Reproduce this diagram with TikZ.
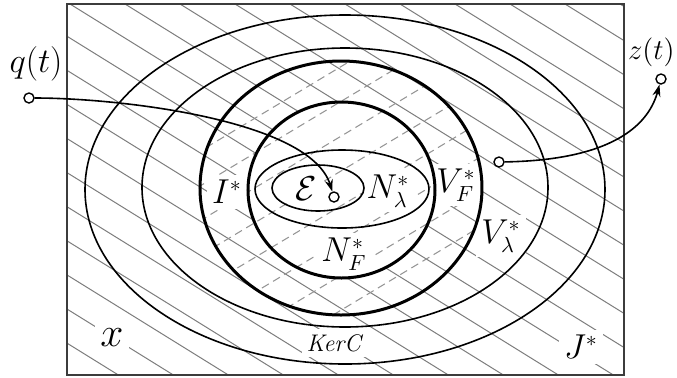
\documentclass[tikz,border=0pt]{standalone}
\usepackage{amsmath,amssymb}
\usepackage{tikz}
\usetikzlibrary{arrows.meta}
\definecolor{hatchgray}{RGB}{125,125,125}
\definecolor{dashgray}{RGB}{150,150,150}
\definecolor{framegray}{RGB}{60,60,60}

\begin{document}
\begin{tikzpicture}[x=0.5pt, y=-0.5pt,
    hatchline/.style={draw=hatchgray, line width=0.5pt},
    dashline/.style={draw=dashgray, line width=0.55pt, dash pattern=on 4pt off 2.5pt},
    setline/.style={line width=0.8pt},
    boldset/.style={line width=1.5pt},
    tag/.style={fill=white, inner sep=2.5pt, font=\fontsize{16}{18}\selectfont},
    port/.style={circle, draw, fill=white, line width=0.7pt, inner sep=0pt, minimum size=5pt},
    flow/.style={line width=0.8pt, -{Stealth[length=6pt, width=4pt]}}]
  \useasboundingbox (0,0) rectangle (677,377);
  % solid hatching outside N_F*
  \begin{scope}[even odd rule]
    \clip (67,4) rectangle (624,375)
      (341.5,190) ellipse [x radius=93.5, y radius=88];
    \foreach \c in {-645,-590,...,620}
      \draw[hatchline] (\c,4) -- ++(700,434);
  \end{scope}
  % dashed hatching inside V_F*
  \begin{scope}
    \clip (341,188) ellipse [x radius=141, y radius=127];
    \foreach \c in {-347,-289,...,407}
      \draw[dashline] (\c,375) -- ++(700,-420);
  \end{scope}
  % labels
  \node[font=\fontsize{16}{18}\selectfont] (lq) at (36,64) {$q(t)$};
  \node[font=\Large, inner sep=0pt, anchor=east] (lz) at (675,52) {$z(t)$};
  \node[tag] (lI) at (227,192) {$I^*$};
  \node[tag] (lVF) at (456,185) {$V_F^*$};
  \node[tag] (lVl) at (501,236) {$V_\lambda^*$};
  \node[tag] (lNl) at (388,191) {$N_\lambda^*$};
  \node[tag] (lNF) at (344,254) {$N_F^*$};
  \node[tag] (leps) at (306,189) {$\mathcal{E}$};
  \node[tag, font=\large] (lker) at (335,343) {\textit{KerC}};
  \node[tag, font=\huge] (lx) at (112,338) {$x$};
  \node[tag] (lJ) at (581,347) {$J^*$};
  % frame and sets
  \draw[framegray, line width=0.8pt] (67,4) rectangle (624,375);
  \draw[setline] (345,189.5) ellipse [x radius=260, y radius=174.5];
  \draw[setline] (345,187.5) ellipse [x radius=203, y radius=139.5];
  \draw[boldset] (341,188) ellipse [x radius=141, y radius=127];
  \draw[boldset] (341.5,190) ellipse [x radius=93.5, y radius=88];
  \draw[setline] (342,189) ellipse [x radius=87, y radius=39];
  \draw[setline] (318,188) ellipse [x radius=46, y radius=23];
  % input and output
  \node[port] (qin) at (29,98) {};
  \node[port] (tgt) at (334,197) {};
  \node[port] (src) at (499,162) {};
  \node[port] (zout) at (661,79) {};
  \draw[flow] (qin) .. controls (120,98) and (310,120) .. (tgt);
  \draw[flow] (src) .. controls (620,160) and (650,120) .. (zout);
\end{tikzpicture}
\end{document}
